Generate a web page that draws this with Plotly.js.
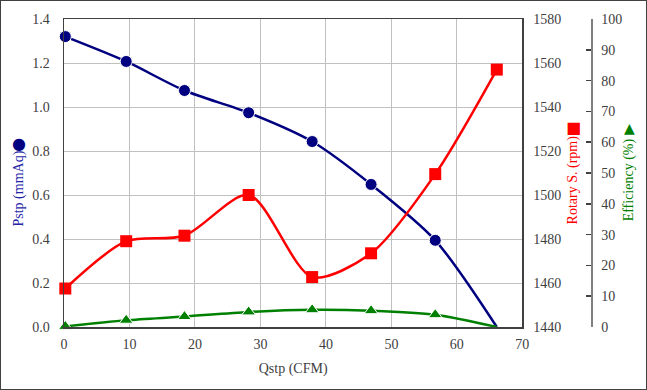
<!DOCTYPE html>
<html><head><meta charset="utf-8">
<script src="https://cdn.plot.ly/plotly-3.0.1.min.js"></script>
<style>
html,body{margin:0;padding:0;background:#fff;}
#chart{width:645px;height:388px;border:1px solid #404040;}
</style></head>
<body><div id="chart"></div>
<script>
const qstp = [0.2, 9.5, 18.4, 28.2, 37.9, 46.9, 56.7, 66.1];
const pstp = [1.32, 1.207, 1.075, 0.974, 0.843, 0.648, 0.394, 0.0];
const rpm = [1457.5, 1479, 1481.5, 1500, 1462.7, 1473.5, 1509.5, 1557];
const eff = [0.2, 2.2, 3.4, 4.9, 5.6, 5.3, 4.0, 0.0];

const font = "Liberation Serif, Times New Roman, serif";
const tickColor = '#404040';
const tf = {family: font, size: 14, color: tickColor};
const W = 527.2, xd = 458.5 / 527.2;
const sizesNoLast = (s) => qstp.map((_, i) => i === qstp.length - 1 ? 0 : s);

const traces = [
  {x: qstp, y: pstp, type: 'scatter', mode: 'lines+markers', name: 'Pstp', cliponaxis: false,
   line: {color: '#000080', width: 2.5, shape: 'spline', smoothing: 0.8},
   marker: {symbol: 'circle', size: sizesNoLast(12), color: '#000080', opacity: 1}, xaxis: 'x', yaxis: 'y'},
  {x: qstp, y: rpm, type: 'scatter', mode: 'lines+markers', name: 'Rotary S.', cliponaxis: false,
   line: {color: '#ff0000', width: 2.5, shape: 'spline', smoothing: 0.8},
   marker: {symbol: 'square', size: 12, color: '#ff0000', opacity: 1}, xaxis: 'x', yaxis: 'y2'},
  {x: qstp, y: eff, type: 'scatter', mode: 'lines+markers', name: 'Efficiency', cliponaxis: false,
   line: {color: '#008000', width: 2.5, shape: 'spline', smoothing: 0.8},
   marker: {symbol: 'triangle-up', size: sizesNoLast(12), color: '#008000', opacity: 1}, xaxis: 'x', yaxis: 'y3'}
];

const ann = (x, y, text, size, color, angle, fam) => ({
  xref: 'paper', yref: 'paper', x: (x - 63.5) / W, y: y, text: text,
  xanchor: 'center', yanchor: 'middle', textangle: angle, showarrow: false,
  font: {family: fam || font, size: size, color: color}
});

const layout = {
  width: 645, height: 388,
  margin: {l: 62.5, r: 55.3, t: 18, b: 62},
  paper_bgcolor: '#fff', plot_bgcolor: '#fff',
  showlegend: false,
  font: tf,
  xaxis: {domain: [0, xd], range: [0, 70], dtick: 10, tick0: 0, tickfont: tf,
    showgrid: true, gridcolor: '#c0c0c0', gridwidth: 1,
    showline: true, linecolor: '#404040', linewidth: 1.5, mirror: true,
    zeroline: false, ticks: '', ticklabelstandoff: 4,
    title: {text: 'Qstp (CFM)', font: tf, standoff: 12}},
  yaxis: {range: [0, 1.4], dtick: 0.2, tick0: 0, tickformat: '.1f', tickfont: tf,
    showgrid: true, gridcolor: '#c0c0c0', gridwidth: 1,
    showline: true, linecolor: '#404040', linewidth: 1.5, mirror: true,
    zeroline: false, ticks: '', ticklabelstandoff: 10},
  yaxis2: {range: [1440, 1580], dtick: 20, tick0: 1440, overlaying: 'y', side: 'right', tickfont: tf,
    anchor: 'x', showgrid: false, zeroline: false, showline: false, ticks: '',
    ticklabelstandoff: 10},
  yaxis3: {range: [0, 100], dtick: 10, tick0: 0, overlaying: 'y', side: 'right', tickfont: tf,
    anchor: 'free', position: 1, showgrid: false, zeroline: false,
    showline: true, linecolor: '#808080', linewidth: 1.5,
    ticks: 'inside', ticklen: 5, tickcolor: '#404040', tickwidth: 1.5, ticklabelstandoff: 6},
  annotations: [
    ann(18, 0.448, 'Pstp (mmAq)', 14, '#2323a8', -90),
    ann(18, 0.597, '●', 16, '#000080', 0, 'DejaVu Sans'),
    ann(572.7, 0.476, 'Rotary S. (rpm)', 14, '#ff0000', -90),
    ann(572.7, 0.649, '■', 16, '#ff0000', 0, 'DejaVu Sans'),
    ann(629, 0.477, 'Efficiency (%)', 14, '#008000', -90),
    ann(629, 0.646, '▲', 14, '#008000', 0, 'DejaVu Sans')
  ]
};

Plotly.newPlot('chart', traces, layout, {displayModeBar: false, staticPlot: true});
</script></body></html>
